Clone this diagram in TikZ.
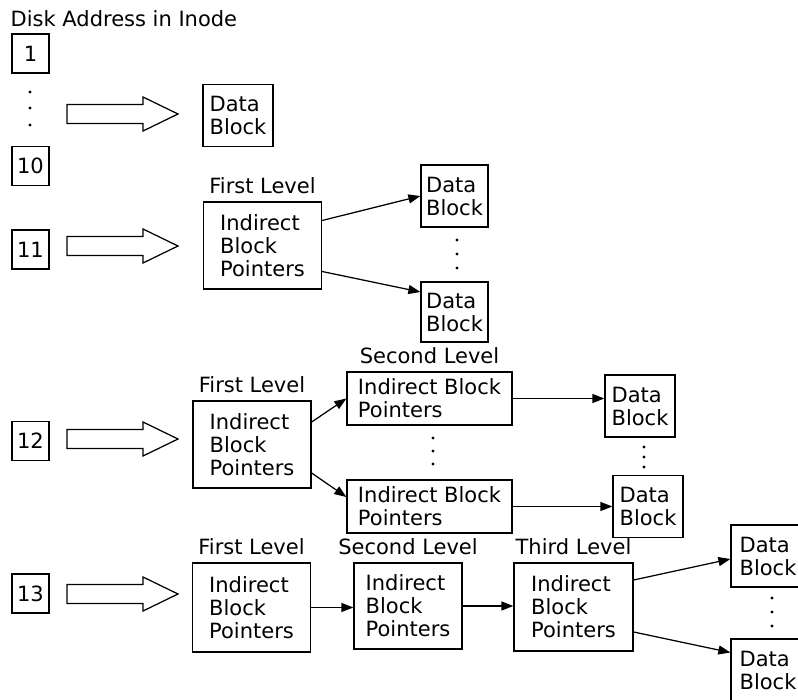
\documentclass[tikz,border=0pt]{standalone}
\usepackage{fontspec}
\setmainfont{DejaVu Sans}
\usetikzlibrary{arrows.meta}
\begin{document}
\begin{tikzpicture}[x=1pt,y=-1pt,line width=1.25pt,font=\fontsize{21}{23}\selectfont,
	numbox/.style={draw,minimum width=37pt,minimum height=39pt,inner sep=0pt},
	dblock/.style={draw,align=left,minimum width=70pt,minimum height=62pt,inner sep=0pt},
	ibox/.style={draw,align=left,minimum width=118pt,minimum height=87pt,inner sep=0pt},
	sbox/.style={draw,align=left,minimum width=165pt,minimum height=53pt,inner sep=0pt},
	every label/.style={inner sep=0pt},label distance=7pt,
	ptr/.style={-{Triangle[length=12pt,width=9pt]}}]
		\useasboundingbox (0,0) rectangle (798,700);
		\node[anchor=base west,inner sep=0pt] (title) at (10,27) {Disk Address in Inode};
		\node[numbox] (n1) at (30.5,53.5) {1};
		\node[numbox] (n10) at (30.5,166) {10};
		\node[numbox] (n11) at (30.5,249.5) {11};
		\node[numbox] (n12) at (30.5,441) {12};
		\node[numbox] (n13) at (30.5,593.5) {13};
		\node[dblock] (d1) at (238,115.5) {Data\\Block};
		\node[ibox,label=above:{First Level}] (i11) at (262.5,245.5) {Indirect\\Block\\Pointers};
		\node[dblock,minimum width=67pt] (d11a) at (454.5,196) {Data\\Block};
		\node[dblock,minimum width=67pt,minimum height=60pt] (d11b) at (454.5,312) {Data\\Block};
		\node[ibox,label=above:{First Level}] (i12) at (252,444.5) {Indirect\\Block\\Pointers};
		\node[sbox,label=above:{Second Level}] (s12a) at (429.5,398.5) {Indirect Block\\Pointers};
		\node[sbox] (s12b) at (429.5,506.5) {Indirect Block\\Pointers};
		\node[dblock] (d12a) at (640,406) {Data\\Block};
		\node[dblock] (d12b) at (648,506.5) {Data\\Block};
		\node[ibox,minimum height=89pt,label=above:{First Level}] (i13) at (251.5,607.5) {Indirect\\Block\\Pointers};
		\node[ibox,minimum width=108pt,minimum height=86pt,label=above:{Second Level}] (s13) at (408,606) {Indirect\\Block\\Pointers};
		\node[ibox,minimum width=119pt,minimum height=88pt,label=above:{Third Level}] (t13) at (573.5,607) {Indirect\\Block\\Pointers};
		\node[dblock,minimum width=74pt] (d13a) at (768,556) {Data\\Block};
		\node[dblock,minimum width=74pt] (d13b) at (768,670) {Data\\Block};
		\foreach \y in {114,246,439,594}
			\draw (67,\y-9.5) -- (143,\y-9.5) -- (143,\y-17) -- (178,\y) -- (143,\y+17) -- (143,\y+9.5) -- (67,\y+9.5) -- cycle;
		\draw[ptr] ([yshift=25pt]i11.east) -- (d11a.west);
		\draw[ptr] ([yshift=-26pt]i11.east) -- ([yshift=20pt]d11b.west);
		\draw[ptr] ([yshift=22.5pt]i12.east) -- (s12a.west);
		\draw[ptr] ([yshift=-28.5pt]i12.east) -- ([yshift=9.5pt]s12b.west);
		\draw[ptr] (s12a.east) -- (s12a.east -| d12a.west);
		\draw[ptr] (s12b.east) -- (d12b.west);
		\draw[ptr] (i13.east) -- (i13.east -| s13.west);
		\draw[ptr] (s13.east) -- (s13.east -| t13.west);
		\draw[ptr] ([yshift=27pt]t13.east) -- ([yshift=-3pt]d13a.west);
		\draw[ptr] ([yshift=-25pt]t13.east) -- ([yshift=17.5pt]d13b.west);
		\foreach \x/\y in {30/92,30/108,30/125,457/240,457/254,457/268,433/438,433/451,433/464,644/447,644/457,644/467,772/598,772/612,772/626}
			\fill (\x,\y) circle (1.6pt);
	\end{tikzpicture}
\end{document}
